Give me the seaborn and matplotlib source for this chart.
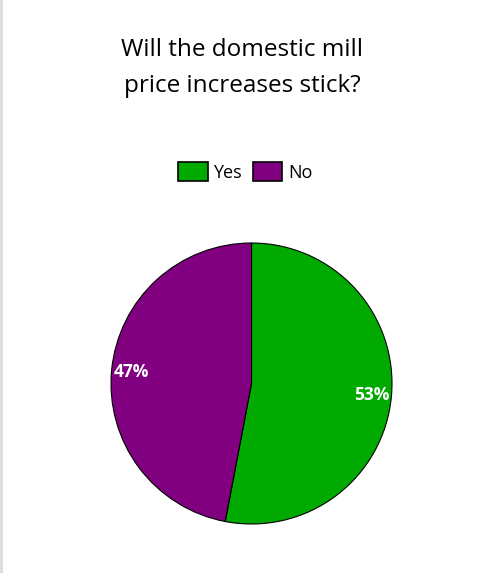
import matplotlib
matplotlib.use("Agg")
import matplotlib.pyplot as plt
import seaborn as sns
from matplotlib.patches import Patch, Rectangle

# data
answers = ["Yes", "No"]
shares = [53, 47]
colors = ["#00AA00", "#800080"]

sns.set_theme(style="white")
plt.rcParams["font.family"] = ["Open Sans", "DejaVu Sans"]
plt.rcParams["text.color"] = "black"

fig = plt.figure(figsize=(4.79, 5.73), dpi=100)
ax = fig.add_axes([111 / 479, 49 / 573, 281 / 479, 281 / 573])

wedges, texts, autotexts = ax.pie(
    shares, colors=colors, startangle=90, counterclock=False,
    autopct="%1.0f%%", pctdistance=0.86,
    wedgeprops=dict(edgecolor="black", linewidth=0.8),
    textprops=dict(color="white", fontsize=12.5, fontweight="bold"),
)
ax.set_xlim(-1.0, 1.0)
ax.set_ylim(-1.0, 1.0)
ax.set_aspect("equal")

fig.text(242 / 479, 1 - 50 / 573, "Will the domestic mill", ha="center", va="center", fontsize=17.5)
fig.text(242 / 479, 1 - 86 / 573, "price increases stick?", ha="center", va="center", fontsize=17.5)

handles = [Patch(facecolor=c, edgecolor="black", linewidth=1.2) for c in colors]
fig.legend(handles, answers, loc="center", bbox_to_anchor=(245 / 479, 1 - 172 / 573),
           ncol=2, frameon=False, fontsize=13, handlelength=1.65, handleheight=1.2,
           handletextpad=0.3, columnspacing=0.6)

# thin grey border on the left edge
fig.patches.append(Rectangle((0, 0), 2.5 / 479, 1, transform=fig.transFigure,
                             facecolor="#dddddd", edgecolor="none"))

fig.savefig("out.png", dpi=100)
